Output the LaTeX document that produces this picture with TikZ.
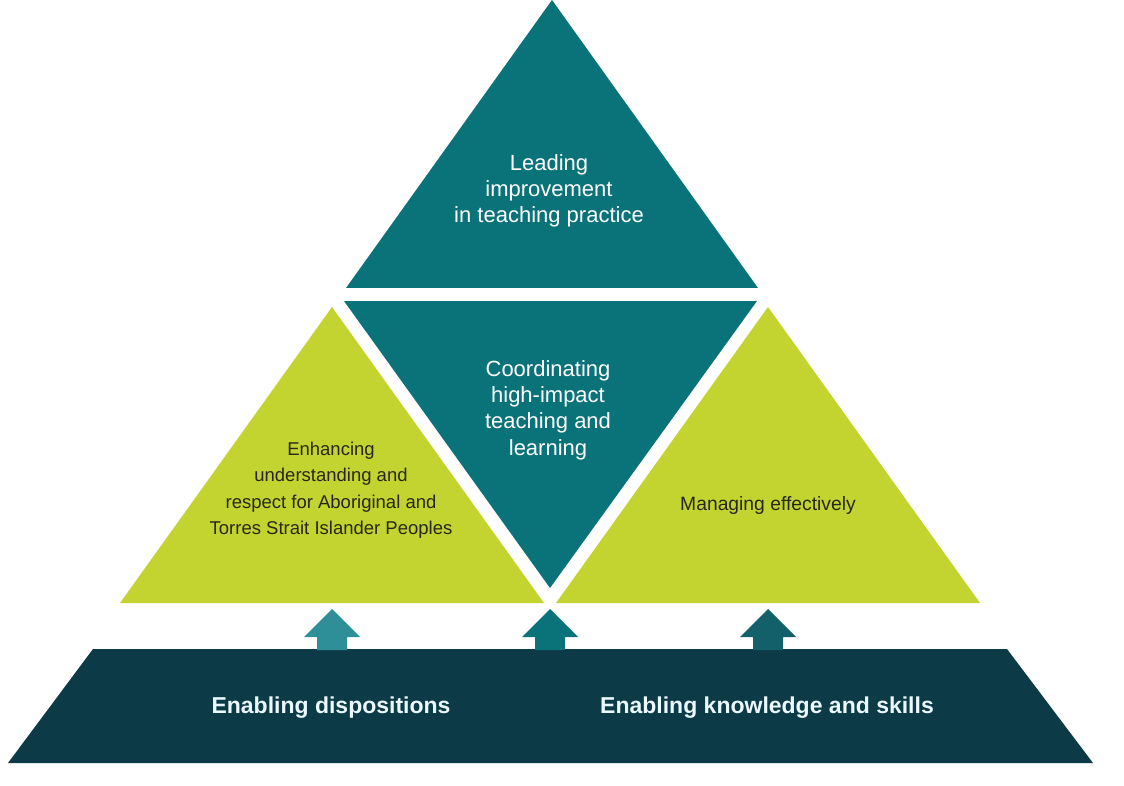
\documentclass[tikz,border=0pt]{standalone}
\usepackage{fontspec}
\setmainfont{Liberation Sans}
\definecolor{teal1}{HTML}{0A737A}
\definecolor{lime1}{HTML}{C3D431}
\definecolor{navy1}{HTML}{0C3B47}
\definecolor{arrA}{HTML}{2F8F98}
\definecolor{arrB}{HTML}{0A737A}
\definecolor{arrC}{HTML}{14606A}
\definecolor{darktext}{HTML}{262619}
\tikzset{
  tealtext/.style={text=white, align=center, inner sep=0pt, font=\fontsize{22}{26.3}\selectfont},
  limetext/.style={text=darktext, align=center, inner sep=0pt, font=\fontsize{18.5}{26.5}\selectfont},
  basetext/.style={text=white!92!cyan, inner sep=0pt, anchor=base, font=\fontsize{23}{26}\selectfont\bfseries},
}
\begin{document}
\begin{tikzpicture}[x=1pt,y=-1pt]
\useasboundingbox (0,0) rectangle (1124,786);
\fill[white] (0,0) rectangle (1124,786);
% top triangle
\fill[teal1] (552,0) -- (758,288) -- (346,288) -- cycle;
% inverted triangle
\fill[teal1] (344,301) -- (757,301) -- (550,588) -- cycle;
% green triangles
\fill[lime1] (332,307) -- (544,603) -- (120,603) -- cycle;
\fill[lime1] (768,307) -- (980,603) -- (556,603) -- cycle;
% base trapezoid
\fill[navy1] (93,649) -- (1007,649) -- (1093,763) -- (8,763) -- cycle;
% block arrows
\foreach \c/\col in {332/arrA, 550/arrB, 768/arrC}{
  \fill[\col] (\c-15,650) -- (\c-15,637) -- (\c-28,637) -- (\c,609) -- (\c+28,637) -- (\c+15,637) -- (\c+15,650) -- cycle;
}
% texts
\node[tealtext] (lead) at (549,191) {Leading\\improvement\\in teaching practice};
\node[tealtext] (coord) at (548,410) {Coordinating\\high-impact\\teaching and\\learning};
\node[limetext] (enh) at (331,490) {Enhancing\\understanding and\\respect for Aboriginal and\\Torres Strait Islander Peoples};
\node[limetext, anchor=base, font=\fontsize{19.3}{24}\selectfont] (man) at (768,510) {Managing effectively};
\node[basetext] (disp) at (331,713) {Enabling dispositions};
\node[basetext] (know) at (767,713) {Enabling knowledge and skills};
\end{tikzpicture}
\end{document}
